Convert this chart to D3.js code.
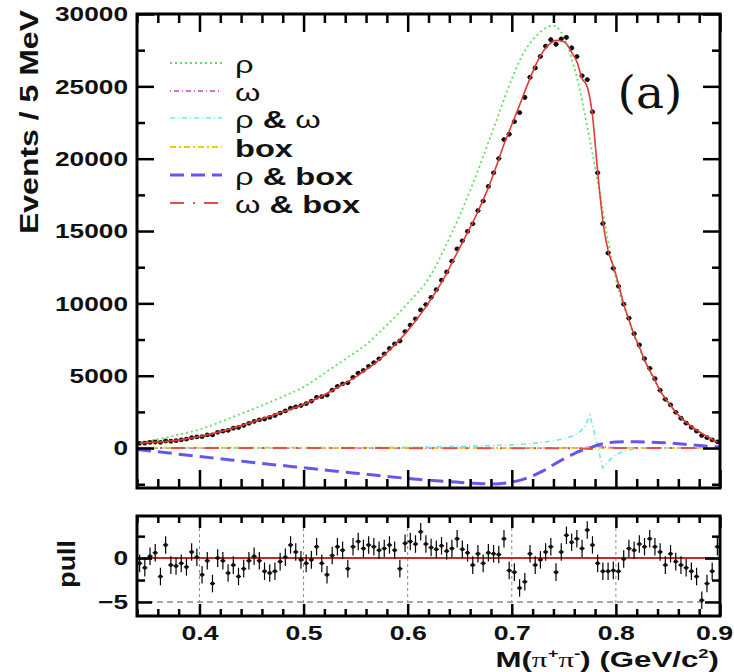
<!DOCTYPE html>
<html><head><meta charset="utf-8">
<script src="https://cdn.jsdelivr.net/npm/d3@7/dist/d3.min.js"></script>
<style>html,body{margin:0;padding:0;background:#fff}svg{display:block}</style>
</head><body>
<svg id="c" width="734" height="672"></svg>
<script>
// ---------------- data ----------------
const binCenters = [
0.3425,0.3475,0.3525,0.3575,0.3625,0.3675,0.3725,0.3775,0.3825,0.3875,
0.3925,0.3975,0.4025,0.4075,0.4125,0.4175,0.4225,0.4275,0.4325,0.4375,
0.4425,0.4475,0.4525,0.4575,0.4625,0.4675,0.4725,0.4775,0.4825,0.4875,
0.4925,0.4975,0.5025,0.5075,0.5125,0.5175,0.5225,0.5275,0.5325,0.5375,
0.5425,0.5475,0.5525,0.5575,0.5625,0.5675,0.5725,0.5775,0.5825,0.5875,
0.5925,0.5975,0.6025,0.6075,0.6125,0.6175,0.6225,0.6275,0.6325,0.6375,
0.6425,0.6475,0.6525,0.6575,0.6625,0.6675,0.6725,0.6775,0.6825,0.6875,
0.6925,0.6975,0.7025,0.7075,0.7125,0.7175,0.7225,0.7275,0.7325,0.7375,
0.7425,0.7475,0.7525,0.7575,0.7625,0.7675,0.7725,0.7775,0.7825,0.7875,
0.7925,0.7975,0.8025,0.8075,0.8125,0.8175,0.8225,0.8275,0.8325,0.8375,
0.8425,0.8475,0.8525,0.8575,0.8625,0.8675,0.8725,0.8775,0.8825,0.8875,
0.8925,0.8975];
const binHalfWidth = 0.0025;

const counts = [
330,340,390,420,390,490,470,510,570,615,
720,770,790,910,910,1090,1170,1220,1370,1420,
1560,1710,1840,1950,2010,2120,2250,2420,2570,2760,
2850,2940,3070,3240,3500,3550,3660,4000,4260,4440,
4510,4890,5170,5370,5650,5900,6170,6510,6880,7200,
7400,8050,8500,8930,9550,9920,10410,10950,11600,12170,
12920,13760,14320,14970,15500,16410,17070,18080,19020,20010,
21320,21690,22560,23180,24230,25630,26270,27070,27770,28220,
27910,28270,28380,27650,27060,25730,25460,23230,19020,15510,
13480,12420,11180,9940,8980,7900,7130,6180,5510,4790,
3990,3370,2980,2470,2060,1720,1430,1170,870,720,
560,430];

const fitTotal = [
340,360,385,410,430,455,490,530,580,640,
700,770,840,920,1000,1090,1180,1280,1400,1500,
1610,1720,1830,1960,2080,2200,2320,2440,2560,2680,
2810,2950,3100,3250,3420,3590,3780,3980,4180,4380,
4590,4800,5030,5290,5540,5800,6100,6420,6760,7120,
7500,7900,8330,8780,9260,9760,10290,10850,11450,12080,
12800,13500,14200,14900,15600,16350,17150,18000,18950,19950,
21000,21900,22800,23700,24650,25550,26400,27100,27650,28000,
28180,28150,27950,27350,26700,25550,24950,23000,19100,15700,
13650,12580,11340,9950,8880,7820,7000,6080,5350,4700,
3950,3420,2950,2490,2100,1770,1490,1240,1020,800,
600,400];

const pulls = [
-0.6,-1.1,0.2,0.6,-2.1,1.5,-0.8,-0.9,-0.6,-1.0,
0.7,0.1,-1.9,-0.3,-2.9,0.0,-0.3,-1.7,-0.8,-2.1,
-1.2,-0.3,0.2,-0.3,-1.5,-1.7,-1.5,-0.4,0.1,1.5,
0.7,-0.2,-0.6,-0.2,1.3,-0.6,-1.9,0.3,1.3,0.9,
-1.2,1.3,1.9,1.1,1.5,1.3,0.9,1.1,1.5,0.9,
-1.2,1.7,1.9,1.6,3.0,1.6,1.2,1.0,1.4,0.8,
1.1,2.2,1.0,0.6,-0.8,0.5,-0.6,0.6,0.5,0.4,
2.2,-1.4,-1.6,-3.4,-2.7,0.5,-0.8,-0.2,0.7,1.3,
-1.6,0.7,2.6,1.8,2.2,1.1,3.2,1.5,-0.6,-1.5,
-1.5,-1.4,-1.5,-0.1,1.1,0.9,1.6,1.3,2.2,1.3,
0.7,-0.8,0.5,-0.4,-0.8,-1.1,-1.5,-2.1,-4.8,-2.9,
-1.5,1.3];

// component curves
const compX = [0.34,0.36,0.38,0.40,0.42,0.44,0.46,0.48,0.50,0.52,0.54,0.56,0.58,0.60,0.62,0.64,0.66,0.68,0.70,
  0.71,0.72,0.73,0.74,0.75,0.76,
  0.765,0.77,0.775,0.78,0.785,0.7875,0.79,0.795,0.80,
  0.81,0.82,0.83,0.84,0.85,0.86,0.87,0.88,0.89,0.90];
const rhoY = [380,600,930,1280,1800,2370,2940,3560,4220,5170,6150,7150,8500,10000,11700,14500,17800,21600,25500,
  27150,28200,28900,29200,28400,26300,
  24900,23100,21300,19400,17400,16400,15300,13400,11700,
  9300,7300,5700,4300,3150,2250,1600,1050,650,320];
const rhoOmegaY = [0,0,0,0,0,0,0,0,0,0,10,20,30,50,70,100,130,170,220,
  260,320,400,500,640,870,
  1100,1450,2280,850,-650,-1380,-1150,-750,-450,
  -160,-50,-10,0,0,0,0,0,0,0];
const rhoBoxY = [-100,-250,-420,-580,-740,-900,-1060,-1210,-1360,-1510,-1660,-1810,-1960,-2100,-2220,-2320,-2420,-2480,-2350,
  -2180,-1920,-1580,-1150,-750,-380,
  -220,-100,0,150,260,300,340,390,420,
  440,440,420,390,350,300,240,180,120,70];
const omegaX = [0.34,0.70,0.76,0.775,0.782,0.79,0.80,0.90];
const omegaY = [0,0,10,60,120,60,10,0];
const boxX = [0.34,0.62,0.90];
const boxY = [30,20,10];
const omegaBoxX = [0.34,0.76,0.775,0.782,0.79,0.80,0.90];
const omegaBoxY = [0,-10,-60,0,60,10,0];

const yMajor = [0,5000,10000,15000,20000,25000,30000];
const yMinor = [-2500,2500,7500,12500,17500,22500,27500];
const xMajor = [0.4,0.5,0.6,0.7,0.8,0.9];
const xMinor = [0.34,0.36,0.38,0.42,0.44,0.46,0.48,0.52,0.54,0.56,0.58,0.62,0.64,0.66,0.68,0.72,0.74,0.76,0.78,0.82,0.84,0.86,0.88];
const pullMajor = [-5,0];
const pullMinor = [-2.5,2.5];
const pullGridX = [0.4,0.5,0.6,0.7,0.8];
const pullGridY = [-5];

const legendItems = [
  {key:"rho", parts:[{t:"ρ",w:"normal"}]},
  {key:"omega", parts:[{t:"ω",w:"normal"}]},
  {key:"rhoOmega", parts:[{t:"ρ",w:"normal"},{t:" &  "},{t:"ω",w:"normal"}]},
  {key:"box", parts:[{t:"box"}]},
  {key:"rhoBox", parts:[{t:"ρ",w:"normal"},{t:" & box"}]},
  {key:"omegaBox", parts:[{t:"ω",w:"normal"},{t:" & box"}]}
];

// ---------------- styles ----------------
const styles = {
  rho:      {color:"#5ee05e", width:1.8, dash:"2,3"},
  omega:    {color:"#d070d8", width:1.8, dash:"1,3,5,3"},
  rhoOmega: {color:"#72e6f2", width:1.6, dash:"5,3,1,3"},
  box:      {color:"#e8cc10", width:1.8, dash:"6,3,2,3"},
  rhoBox:   {color:"#6458ea", width:3.0, dash:"14,7"},
  omegaBox: {color:"#e05050", width:2.0, dash:"14,9,2,9"}
};

// ---------------- layout ----------------
const X0=137, X1=720, T0=14, T1=488, P0=516, P1=616;
const FONT = "'Liberation Sans', Arial, Helvetica, sans-serif";
const svg = d3.select("#c");
const x  = d3.scaleLinear().domain([0.34,0.9]).range([X0,X1]);
const y  = d3.scaleLinear().domain([-2760,30000]).range([T1,T0]);
const yp = d3.scaleLinear().domain([-6.6,4.8]).range([P1,P0]);

const defs = svg.append("defs");
defs.append("clipPath").attr("id","clipTop").append("rect").attr("x",X0).attr("y",T0).attr("width",X1-X0).attr("height",T1-T0);
defs.append("clipPath").attr("id","clipPull").append("rect").attr("x",X0).attr("y",P0).attr("width",X1-X0).attr("height",P1-P0);

function stretchText(sel, k){
  sel.each(function(){
    const t = d3.select(this);
    let tx = +(t.attr("x")||0);
    const ty = +(t.attr("y")||0);
    const parentT = this.parentNode.getAttribute("transform")||"";
    const m = /translate\(([-\d.]+)/.exec(parentT);
    const ax = m ? +m[1] : 0;
    let anchor = null;
    // keep the rightmost x label inside the window
    if (ax > 715 && ax < 725 && t.text() !== "") { anchor = "end"; tx = 733 - ax; }
    t.attr("x",0).attr("y",0).attr("transform",`translate(${tx},${ty}) scale(${k},1)`);
    if (anchor) t.attr("text-anchor", anchor);
  });
}
function styleAxis(g, sw){
  g.select(".domain").remove();
  g.selectAll(".tick line").attr("stroke","#000").attr("stroke-width",sw);
  g.attr("font-family",FONT).attr("font-weight","bold").attr("font-size",21);
  g.selectAll("text").attr("fill","#111");
}
function addText(px,py,parts,opt){
  const t = svg.append("text")
    .attr("transform",`translate(${px},${py}) rotate(${opt.rot||0}) scale(${opt.k||1},1)`)
    .attr("text-anchor",opt.anchor||"start")
    .attr("font-family",opt.family||FONT)
    .attr("font-size",opt.size).attr("font-weight",opt.weight||"bold").attr("fill","#111");
  parts.forEach(p=>{
    const ts = t.append("tspan").text(p.t);
    if(p.w) ts.attr("font-weight",p.w);
    if(p.f) ts.attr("font-family",p.f);
    if(p.s) ts.attr("font-size",p.s);
    if(p.dy!==undefined) ts.attr("dy",p.dy);
  });
  return t;
}

// ---------------- top panel curves ----------------
const gTop = svg.append("g").attr("clip-path","url(#clipTop)");
function drawCurve(g, xs, ys, st, curve){
  const line = d3.line().x(d=>x(d[0])).y(d=>y(d[1])).curve(curve||d3.curveMonotoneX);
  g.append("path").datum(xs.map((v,i)=>[v,ys[i]])).attr("d",line)
    .attr("fill","none").attr("stroke",st.color).attr("stroke-width",st.width)
    .attr("stroke-dasharray",st.dash||null);
}
drawCurve(gTop, compX, rhoY, styles.rho);
drawCurve(gTop, omegaX, omegaY, styles.omega);
drawCurve(gTop, compX, rhoOmegaY, styles.rhoOmega, d3.curveLinear);
drawCurve(gTop, boxX, boxY, styles.box);
drawCurve(gTop, compX, rhoBoxY, styles.rhoBox);
drawCurve(gTop, omegaBoxX, omegaBoxY, styles.omegaBox);

// data points
const dataG = gTop.append("g");
binCenters.forEach((xc,i)=>{
  const c = counts[i], e = Math.sqrt(c);
  dataG.append("line").attr("x1",x(xc)).attr("x2",x(xc)).attr("y1",y(c-e)).attr("y2",y(c+e)).attr("stroke","#000").attr("stroke-width",1.2);
  dataG.append("line").attr("x1",x(xc-binHalfWidth)).attr("x2",x(xc+binHalfWidth)).attr("y1",y(c)).attr("y2",y(c)).attr("stroke","#000").attr("stroke-width",1.2);
  dataG.append("circle").attr("cx",x(xc)).attr("cy",y(c)).attr("r",2.4).attr("fill","#111");
});
// total fit
gTop.append("path").datum(binCenters.map((v,i)=>[v,fitTotal[i]]))
  .attr("d",d3.line().x(d=>x(d[0])).y(d=>y(d[1])).curve(d3.curveMonotoneX))
  .attr("fill","none").attr("stroke","#e23a36").attr("stroke-width",1.6);

// ---------------- axes ----------------
function makeAxes(yScale, yMaj, yMin, top, bottom, majLen, minLen, xMajLen, xMinLen, labelsY, labelsX){
  let g = svg.append("g").attr("transform",`translate(${X0},0)`).call(d3.axisLeft(yScale).tickValues(yMaj).tickSize(-majLen).tickSizeOuter(0).tickPadding(9).tickFormat(labelsY?d3.format("d"):""));
  styleAxis(g,2.5); stretchText(g.selectAll("text"),1.25);
  g = svg.append("g").attr("transform",`translate(${X0},0)`).call(d3.axisLeft(yScale).tickValues(yMin).tickSize(-minLen).tickSizeOuter(0).tickFormat(""));
  styleAxis(g,2.5);
  g = svg.append("g").attr("transform",`translate(${X1},0)`).call(d3.axisRight(yScale).tickValues(yMaj).tickSize(-majLen).tickSizeOuter(0).tickFormat(""));
  styleAxis(g,2.5);
  g = svg.append("g").attr("transform",`translate(${X1},0)`).call(d3.axisRight(yScale).tickValues(yMin).tickSize(-minLen).tickSizeOuter(0).tickFormat(""));
  styleAxis(g,2.5);
  g = svg.append("g").attr("transform",`translate(0,${top})`).call(d3.axisTop(x).tickValues(xMajor).tickSize(-xMajLen).tickSizeOuter(0).tickFormat(""));
  styleAxis(g,2.5);
  g = svg.append("g").attr("transform",`translate(0,${top})`).call(d3.axisTop(x).tickValues(xMinor).tickSize(-xMinLen).tickSizeOuter(0).tickFormat(""));
  styleAxis(g,2.5);
  g = svg.append("g").attr("transform",`translate(0,${bottom})`).call(d3.axisBottom(x).tickValues(xMajor).tickSize(-xMajLen).tickSizeOuter(0).tickPadding(9).tickFormat(labelsX?d3.format(".1f"):""));
  styleAxis(g,2.5);
  if (labelsX) g.selectAll(".tick").each(function(){ stretchText(d3.select(this).selectAll("text"),1.27); });
  g = svg.append("g").attr("transform",`translate(0,${bottom})`).call(d3.axisBottom(x).tickValues(xMinor).tickSize(-xMinLen).tickSizeOuter(0).tickFormat(""));
  styleAxis(g,2.5);
  svg.append("rect").attr("x",X0).attr("y",top).attr("width",X1-X0).attr("height",bottom-top)
    .attr("fill","none").attr("stroke","#000").attr("stroke-width",3);
}
makeAxes(y, yMajor, yMinor, T0, T1, 17, 8, 18, 9, true, false);

// ---------------- pull panel ----------------
const gP = svg.append("g").attr("clip-path","url(#clipPull)");
pullGridX.forEach(v=>{
  gP.append("line").attr("x1",x(v)).attr("x2",x(v)).attr("y1",P0).attr("y2",P1)
    .attr("stroke","#8a8a8a").attr("stroke-width",1).attr("stroke-dasharray","3,3");
});
pullGridY.forEach(v=>{
  gP.append("line").attr("x1",X0).attr("x2",X1).attr("y1",yp(v)).attr("y2",yp(v))
    .attr("stroke","#8a8a8a").attr("stroke-width",1.4).attr("stroke-dasharray","6,4");
});
gP.append("line").attr("x1",X0).attr("x2",X1).attr("y1",yp(0)).attr("y2",yp(0))
  .attr("stroke","#c42a2a").attr("stroke-width",2);
binCenters.forEach((xc,i)=>{
  const p = pulls[i];
  gP.append("line").attr("x1",x(xc)).attr("x2",x(xc)).attr("y1",yp(p-1)).attr("y2",yp(p+1)).attr("stroke","#000").attr("stroke-width",1.2);
  gP.append("line").attr("x1",x(xc-binHalfWidth)).attr("x2",x(xc+binHalfWidth)).attr("y1",yp(p)).attr("y2",yp(p)).attr("stroke","#000").attr("stroke-width",1.2);
  gP.append("circle").attr("cx",x(xc)).attr("cy",yp(p)).attr("r",2).attr("fill","#111");
});
makeAxes(yp, pullMajor, pullMinor, P0, P1, 15, 8, 12, 7, true, true);

// ---------------- legend ----------------
const legY = [63,91,118,147,175,203];
legendItems.forEach((it,i)=>{
  const st = styles[it.key];
  svg.append("line").attr("x1",170).attr("x2",222).attr("y1",legY[i]).attr("y2",legY[i])
    .attr("stroke",st.color).attr("stroke-width",st.width).attr("stroke-dasharray",st.dash);
  addText(235, legY[i]+10, it.parts, {size:24, k:1.36});
});

// ---------------- titles ----------------
addText(650, 108, [{t:"(a)"}], {size:44, weight:"normal", family:"'DejaVu Serif','Liberation Serif',serif", k:1.07, anchor:"middle"});
addText(38, 10, [{t:"Events / 5 MeV"}], {size:25, rot:-90, k:1.28, anchor:"end"});
addText(75, 540, [{t:"pull"}], {size:24, rot:-90, k:1.12, anchor:"end"});
addText(719, 667, [
  {t:"M("},
  {t:"π",w:"normal",f:"'Liberation Serif',serif"},
  {t:"+",s:13,dy:-9},
  {t:"π",w:"normal",f:"'Liberation Serif',serif",dy:9},
  {t:"-",s:13,dy:-9},
  {t:") (GeV/c",dy:9},
  {t:"2",s:13,dy:-9},
  {t:")",dy:9}
], {size:22, k:1.42, anchor:"end"});
</script>
</body></html>
